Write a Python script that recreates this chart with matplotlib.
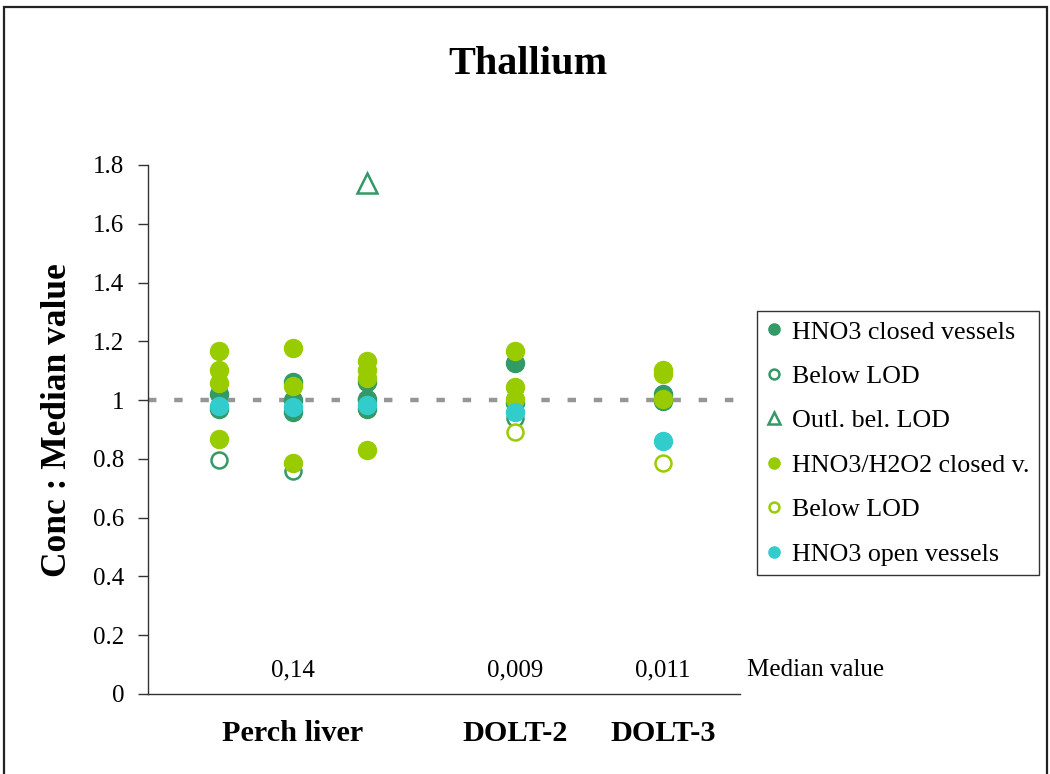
import matplotlib
matplotlib.use("Agg")
import matplotlib.pyplot as plt
from matplotlib.patches import Rectangle

plt.rcParams['font.family'] = ['Liberation Serif', 'DejaVu Serif']

# Sample positions on the x axis and their labels
cat_labels = ["Perch liver", "DOLT-2", "DOLT-3"]
cat_pos = [2, 5, 7]
median_text = ["0,14", "0,009", "0,011"]

# Ratios of concentration to the median value, per digestion method
hno3_closed_x = [1, 1, 2, 2, 2, 3, 3, 3, 5, 5, 7, 7]
hno3_closed_y = [1.02, 0.97, 1.06, 1.00, 0.96, 1.063, 1.004, 0.969, 1.125, 0.99, 1.021, 0.998]

hno3_below_x = [1, 2, 5]
hno3_below_y = [0.795, 0.76, 0.94]

outlier_x = [3]
outlier_y = [1.74]

h2o2_closed_x = [1, 1, 1, 1, 2, 2, 2, 3, 3, 3, 3, 5, 5, 5, 7, 7, 7]
h2o2_closed_y = [1.168, 1.102, 1.057, 0.868, 1.178, 1.049, 0.785, 1.132, 1.102, 1.074, 0.831,
                 1.168, 1.044, 1.004, 1.102, 1.088, 1.004]

h2o2_below_x = [5, 7]
h2o2_below_y = [0.893, 0.786]

open_x = [1, 2, 3, 5, 7]
open_y = [0.979, 0.975, 0.983, 0.961, 0.862]

median_line = 1.0

c_dark = "#339966"
c_lime = "#99CC00"
c_cyan = "#33CCCC"

fig = plt.figure(figsize=(10.5, 7.74), dpi=100)
ax = fig.add_axes([148 / 1050, 1 - 694 / 774, 592 / 1050, 529 / 774])

ax.axhline(median_line, color="#969696", lw=3.2, dashes=(1.9, 4.0), zorder=1)

ms = 13
ax.plot(hno3_closed_x, hno3_closed_y, "o", ms=ms, color=c_dark, mec=c_dark, zorder=3,
        label="HNO3 closed vessels")
ax.plot(hno3_below_x, hno3_below_y, "o", ms=ms - 1.5, mfc="white", mec=c_dark, mew=1.8, zorder=3,
        label="Below LOD")
ax.plot(outlier_x, outlier_y, "^", ms=ms + 1, mfc="white", mec=c_dark, mew=1.8, zorder=3,
        label="Outl. bel. LOD")
ax.plot(h2o2_closed_x, h2o2_closed_y, "o", ms=ms, color=c_lime, mec=c_lime, zorder=4,
        label="HNO3/H2O2 closed v.")
ax.plot(h2o2_below_x, h2o2_below_y, "o", ms=ms - 1.5, mfc="white", mec=c_lime, mew=1.8, zorder=4,
        label="Below LOD")
ax.plot(open_x, open_y, "o", ms=ms, color=c_cyan, mec=c_cyan, zorder=5,
        label="HNO3 open vessels")

ax.set_xlim(0.04, 8.04)
ax.set_ylim(0, 1.8)
ax.set_yticks([0, 0.2, 0.4, 0.6, 0.8, 1, 1.2, 1.4, 1.6, 1.8])
ax.set_yticklabels(["0", "0.2", "0.4", "0.6", "0.8", "1", "1.2", "1.4", "1.6", "1.8"])
ax.set_xticks(cat_pos)
ax.set_xticklabels(cat_labels, fontsize=21.8, fontweight="bold")
ax.tick_params(axis="x", length=0, pad=19)
ax.tick_params(axis="y", labelsize=18, length=7, width=1, direction="out", pad=10, color="#333333")

for s in ["top", "right"]:
    ax.spines[s].set_visible(False)
for s in ["left", "bottom"]:
    ax.spines[s].set_color("#333333")
    ax.spines[s].set_linewidth(1)

for x, t in zip(cat_pos, median_text):
    ax.text(x, 0.08, t, ha="center", va="center", fontsize=18)
ax.text(8.13, 0.08, "Median value", ha="left", va="center", fontsize=18, clip_on=False)

fig.text(58 / 1050, 1 - 420 / 774, "Conc : Median value", rotation=90, ha="center", va="center",
         fontsize=25.5, fontweight="bold")
fig.text(528 / 1050, 1 - 65 / 774, "Thallium", ha="center", va="center", fontsize=29,
         fontweight="bold")

handles, labels = ax.get_legend_handles_labels()
leg = fig.legend(handles, labels, loc="upper left", bbox_to_anchor=(757 / 1050, 1 - 311 / 774),
                 fontsize=18.7, frameon=True, fancybox=False, markerscale=0.62,
                 handlelength=0.6, handletextpad=0.4, labelspacing=0.82, borderpad=0.36,
                 borderaxespad=0, edgecolor="black")
leg.get_frame().set_linewidth(1)

# Outer frame around the whole figure
fig.add_artist(Rectangle((4 / 1050, -0.05), 1043 / 1050, 1.05 - 7 / 774, transform=fig.transFigure,
                         fill=False, edgecolor="#222222", lw=1.6))

fig.savefig("out.png", dpi=100)
